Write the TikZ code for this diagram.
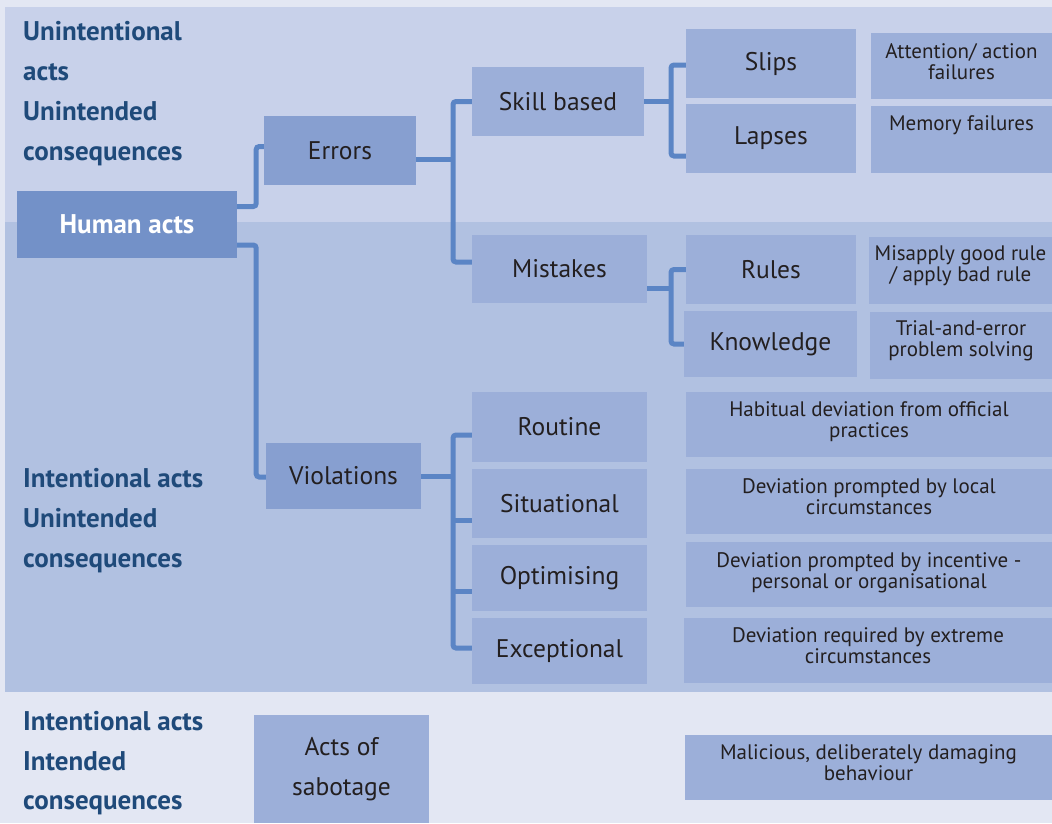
\documentclass[tikz,border=0pt]{standalone}
\usepackage{fontspec}
\setmainfont{PT Sans}
\usetikzlibrary{calc}

\definecolor{pagebg}{HTML}{E3E7F3}
\definecolor{bandtop}{HTML}{C8D1EA}
\definecolor{bandmid}{HTML}{B1C1E1}
\definecolor{rootfill}{HTML}{7391C8}
\definecolor{lvlfill}{HTML}{879FD0}
\definecolor{leaffill}{HTML}{9CAFD9}
\definecolor{wire}{HTML}{5B85C5}
\definecolor{headblue}{HTML}{1F4A7A}
\definecolor{ink}{HTML}{231F20}

\tikzset{
  boxbase/.style={rectangle, inner sep=0pt, text=ink, align=center},
  rootbox/.style={boxbase, fill=rootfill, text=white, font=\bfseries\fontsize{27}{31}\selectfont},
  lvlbox/.style={boxbase, fill=lvlfill, font=\fontsize{25.5}{29}\selectfont},
  leafbox/.style={boxbase, fill=leaffill, font=\fontsize{25.5}{29}\selectfont},
  descbox/.style={boxbase, fill=leaffill},
  desctext/.style={inner sep=0pt, text=ink, align=center, anchor=north,
    font=\fontsize{21}{21}\selectfont},
  headline/.style={inner sep=0pt, anchor=base west, text=headblue,
    font=\bfseries\fontsize{27}{31}\selectfont},
  conn/.style={draw=wire, line width=5pt, rounded corners=3pt}
}

% box from corner (x1,y1) to corner (x2,y2), in pixel-like units
\newcommand{\cbox}[7]{%
  \node[#1, minimum width={(#5-#3)*1pt}, minimum height={(#6-#4)*1pt}]
    (#2) at ({(#3+#5)/2},{(#4+#6)/2}) {#7};}

\begin{document}
\begin{tikzpicture}[x=1pt, y=-1pt]
\useasboundingbox (0,0) rectangle (1052,823);

% background bands
\fill[pagebg] (0,0) rectangle (1052,823);
\fill[bandtop] (5,7) rectangle (1052,222);
\fill[bandmid] (5,222) rectangle (1052,692);

% band headings
\node[headline] (h1a) at (23,40)  {Unintentional};
\node[headline] (h1b) at (23,80)  {acts};
\node[headline] (h1c) at (23,120) {Unintended};
\node[headline] (h1d) at (23,160) {consequences};
\node[headline] (h2a) at (23,487) {Intentional acts};
\node[headline] (h2b) at (23,527) {Unintended};
\node[headline] (h2c) at (23,567) {consequences};
\node[headline] (h3a) at (23,730) {Intentional acts};
\node[headline] (h3b) at (23,770) {Intended};
\node[headline] (h3c) at (23,809) {consequences};

% tree boxes
\cbox{rootbox}{human}{17}{191}{237}{258}{Human acts}
\cbox{lvlbox}{errors}{264}{116}{416}{185}{Errors}
\cbox{lvlbox}{violations}{266}{443}{421}{509}{Violations}
\cbox{leafbox}{skill}{472}{67}{644}{136}{Skill based}
\cbox{leafbox}{mistakes}{472}{235}{647}{303}{Mistakes}
\cbox{leafbox}{slips}{686}{29}{856}{98}{Slips}
\cbox{leafbox}{lapses}{686}{104}{856}{173}{Lapses}
\cbox{leafbox}{rules}{686}{235}{856}{304}{Rules}
\cbox{leafbox}{knowledge}{684}{311}{857}{377}{Knowledge}
\cbox{leafbox}{routine}{472}{392}{647}{462}{Routine}
\cbox{leafbox}{situational}{472}{469}{647}{538}{Situational}
\cbox{leafbox}{optimising}{472}{545}{647}{611}{Optimising}
\cbox{leafbox}{exceptional}{472}{618}{647}{684}{Exceptional}
\cbox{leafbox}{sabotage}{254}{715}{429}{823}{Acts of\\[11pt]sabotage}

% description boxes
\cbox{descbox}{dslips}{871}{33}{1052}{99}{}
\cbox{descbox}{dlapses}{871}{106}{1052}{173}{}
\cbox{descbox}{drules}{869}{237}{1052}{304}{}
\cbox{descbox}{dknow}{870}{312}{1052}{379}{}
\cbox{descbox}{droutine}{686}{392}{1052}{457}{}
\cbox{descbox}{dsitu}{686}{469}{1052}{534}{}
\cbox{descbox}{doptim}{686}{542}{1052}{607}{}
\cbox{descbox}{dexcep}{684}{618}{1052}{683}{}
\cbox{descbox}{dsabot}{685}{735}{1052}{800}{}

\node[desctext] (tslips) at ([yshift=-10.5pt]dslips.north) {Attention/ action\\failures};
\node[desctext] (tlapses) at ([yshift=-9.5pt]dlapses.north) {Memory failures};
\node[desctext] (trules) at ([yshift=-8.5pt]drules.north) {Misapply good rule\\/ apply bad rule};
\node[desctext] (tknow) at ([yshift=-8.5pt]dknow.north) {Trial-and-error\\problem solving};
\node[desctext] (troutine) at ([yshift=-10pt]droutine.north) {Habitual deviation from official\\practices};
\node[desctext] (tsitu) at ([yshift=-10pt]dsitu.north) {Deviation prompted by local\\circumstances};
\node[desctext] (toptim) at ([yshift=-11pt]doptim.north) {Deviation prompted by incentive -\\personal or organisational};
\node[desctext] (texcep) at ([yshift=-10pt]dexcep.north) {Deviation required by extreme\\circumstances};
\node[desctext] (tsabot) at ([yshift=-10pt]dsabot.north) {Malicious, deliberately damaging\\behaviour};

% connectors
\draw[conn] ([yshift=18pt]human.east) -- ++(19,0) |- ([yshift=4pt]errors.west);
\draw[conn] ([yshift=-20.5pt]human.east) -- ++(19,0) |- ([yshift=-1pt]violations.west);

\draw[conn] ([yshift=-8.5pt]errors.east) -- ++(37,0);
\draw[conn] (skill.west) -| (453,180) |- ([yshift=7pt]mistakes.west);

\draw[conn] (skill.east) -- ++(27,0);
\draw[conn] ([yshift=-1.5pt]slips.west) -| (671,110) |- ([yshift=-17.5pt]lapses.west);

\draw[conn] ([yshift=-19pt]mistakes.east) -- ++(24,0);
\draw[conn] (rules.west) -| (671,300) |- (knowledge.west);

\draw[conn] (violations.east) -- ++(32,0);
\draw[conn] ([yshift=-8pt]routine.west) -| (453,540) |- ([yshift=3pt]exceptional.west);
\draw[conn] ([yshift=-16.5pt]situational.west) -- ++(-19,0);
\draw[conn] ([yshift=-13pt]optimising.west) -- ++(-19,0);
\end{tikzpicture}
\end{document}
